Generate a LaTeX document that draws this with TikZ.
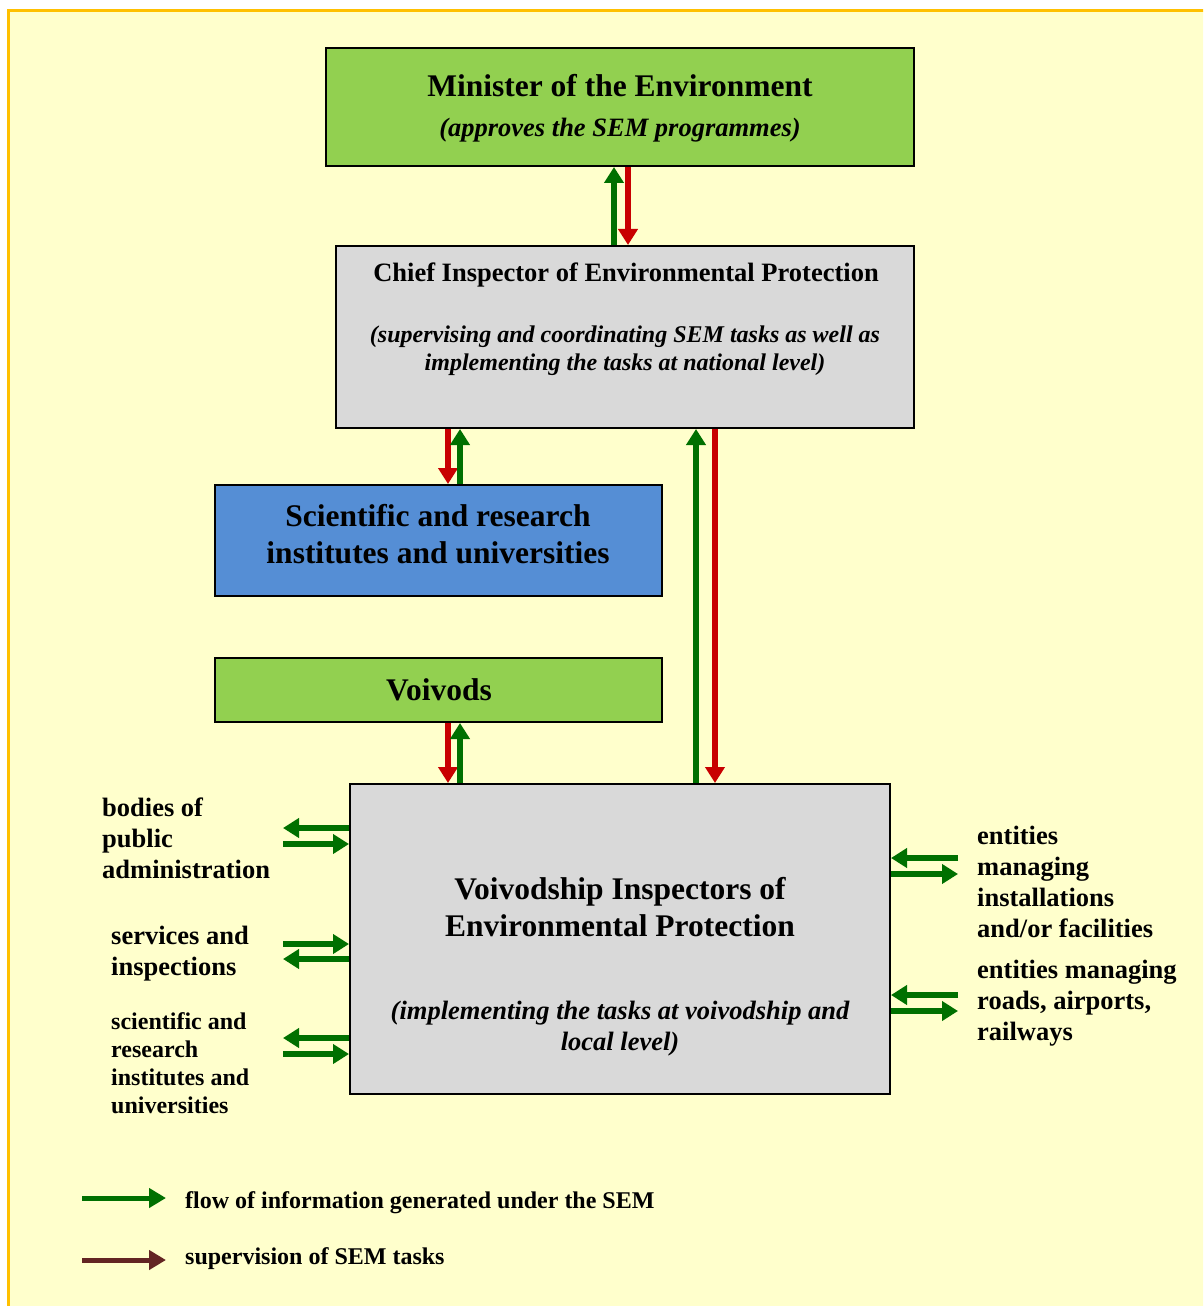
\documentclass[tikz,border=0pt]{standalone}
\usepackage{fontspec}
\setmainfont{Liberation Serif}
\usetikzlibrary{arrows.meta}
\definecolor{bgy}{RGB}{255,255,204}
\definecolor{framec}{RGB}{255,192,0}
\definecolor{gbox}{RGB}{146,208,80}
\definecolor{bbox}{RGB}{85,142,213}
\definecolor{ybox}{RGB}{217,217,217}
\definecolor{gcol}{RGB}{0,112,0}
\definecolor{rcol}{RGB}{200,0,0}
\definecolor{brcol}{RGB}{99,37,35}
\begin{document}
\begin{tikzpicture}[x=1bp,y=-1bp,
  box/.style={draw=black, line width=2bp, inner sep=0pt},
  ttl/.style={font=\bfseries\fontsize{31.5bp}{37bp}\selectfont, align=center, inner sep=0pt},
  ttls/.style={font=\bfseries\fontsize{26.5bp}{31bp}\selectfont, align=center, inner sep=0pt},
  sub/.style={font=\bfseries\itshape\fontsize{26.5bp}{31bp}\selectfont, align=center, inner sep=0pt},
  lbl/.style={font=\bfseries\fontsize{26.5bp}{31bp}\selectfont, align=left, anchor=west, inner sep=0pt},
  lbls/.style={font=\bfseries\fontsize{24bp}{28bp}\selectfont, align=left, anchor=west, inner sep=0pt},
  garrow/.style={draw=gcol, line width=5.5bp, -{Triangle[length=16bp,width=19bp]}},
  rarrow/.style={draw=rcol, line width=5.5bp, -{Triangle[length=16bp,width=19bp]}},
  legg/.style={draw=gcol, line width=5bp, -{Triangle[length=17bp,width=19bp]}},
  legr/.style={draw=brcol, line width=5bp, -{Triangle[length=17bp,width=19bp]}}
]
\useasboundingbox (0,0) rectangle (1203,1306);
\clip (0,0) rectangle (1203,1306);
\fill[white] (0,0) rectangle (1203,1306);
\fill[bgy] (8,11) rectangle (1220,1320);
\draw[framec, line width=3bp] (8,1320) -- (8,11) -- (1220,11);

% boxes
\node[box, fill=gbox, minimum width=588bp, minimum height=118bp] (min) at (620,107) {};
\node[box, fill=ybox, minimum width=578bp, minimum height=182bp] (chief) at (625,337) {};
\node[box, fill=bbox, minimum width=447bp, minimum height=111bp] (sci) at (438.5,540.5) {};
\node[box, fill=gbox, minimum width=447bp, minimum height=64bp] (voivods) at (438.5,690) {};
\node[box, fill=ybox, minimum width=540bp, minimum height=310bp] (voiv) at (620,939) {};

% texts in boxes
\node[ttl] (mint) at (620,86) {Minister of the Environment};
\node[sub] (mins) at (620,130) {(approves the SEM programmes)};
\node[ttls] (chieft) at (626,275) {Chief Inspector of Environmental Protection};
\node[sub, font=\bfseries\itshape\fontsize{24bp}{28bp}\selectfont] (chiefs) at (625,351) {(supervising and coordinating SEM tasks as well as\\implementing the tasks at national level)};
\node[ttl] (scit) at (438,534) {Scientific and research\\institutes and universities};
\node[ttl] (voivodst) at (439,690) {Voivods};
\node[ttl] (voivt) at (620,907) {Voivodship Inspectors of\\Environmental Protection};
\node[sub] (voivs) at (620,1029) {(implementing the tasks at voivodship and\\local level)};

% vertical connectors
\draw[garrow] (chief.north -| 614,0) -- (min.south -| 614,0);
\draw[rarrow] (min.south -| 628,0) -- (chief.north -| 628,0);
\draw[rarrow] (chief.south -| 448,0) -- (sci.north -| 448,0);
\draw[garrow] (sci.north -| 460,0) -- (chief.south -| 460,0);
\draw[garrow] (voiv.north -| 696,0) -- (chief.south -| 696,0);
\draw[rarrow] (chief.south -| 715,0) -- (voiv.north -| 715,0);
\draw[rarrow] (voivods.south -| 448,0) -- (voiv.north -| 448,0);
\draw[garrow] (voiv.north -| 460,0) -- (voivods.south -| 460,0);

% side labels
\node[lbl] (lab1) at (102,838) {bodies of\\public\\administration};
\node[lbl] (lab2) at (111,953.5) {services and\\inspections};
\node[lbls] (lab3) at (111,1063) {scientific and\\research\\institutes and\\universities};
\node[lbl] (lab4) at (977,882) {entities\\managing\\installations\\and/or facilities};
\node[lbl] (lab5) at (977,1003) {entities managing\\roads, airports,\\railways};

\coordinate (l1a) at (283,828);
\coordinate (l1b) at (283,844);
\coordinate (l2a) at (283,944);
\coordinate (l2b) at (283,959);
\coordinate (l3a) at (283,1038);
\coordinate (l3b) at (283,1054);
\coordinate (r1a) at (958,858);
\coordinate (r1b) at (958,874);
\coordinate (r2a) at (958,995);
\coordinate (r2b) at (958,1011);

\draw[garrow] (voiv.west |- l1a) -- (l1a);
\draw[garrow] (l1b) -- (voiv.west |- l1b);
\draw[garrow] (l2a) -- (voiv.west |- l2a);
\draw[garrow] (voiv.west |- l2b) -- (l2b);
\draw[garrow] (voiv.west |- l3a) -- (l3a);
\draw[garrow] (l3b) -- (voiv.west |- l3b);
\draw[garrow] (r1a) -- (voiv.east |- r1a);
\draw[garrow] (voiv.east |- r1b) -- (r1b);
\draw[garrow] (r2a) -- (voiv.east |- r2a);
\draw[garrow] (voiv.east |- r2b) -- (r2b);

% legend
\node[lbls] (leg1) at (185,1203) {flow of information generated under the SEM};
\node[lbls] (leg2) at (185,1259) {supervision of SEM tasks};
\coordinate (lg1s) at (82,1198);
\coordinate (lg1e) at (166,1198);
\coordinate (lg2s) at (82,1260);
\coordinate (lg2e) at (166,1260);
\draw[legg] (lg1s) -- (lg1e);
\draw[legr] (lg2s) -- (lg2e);
\end{tikzpicture}
\end{document}
